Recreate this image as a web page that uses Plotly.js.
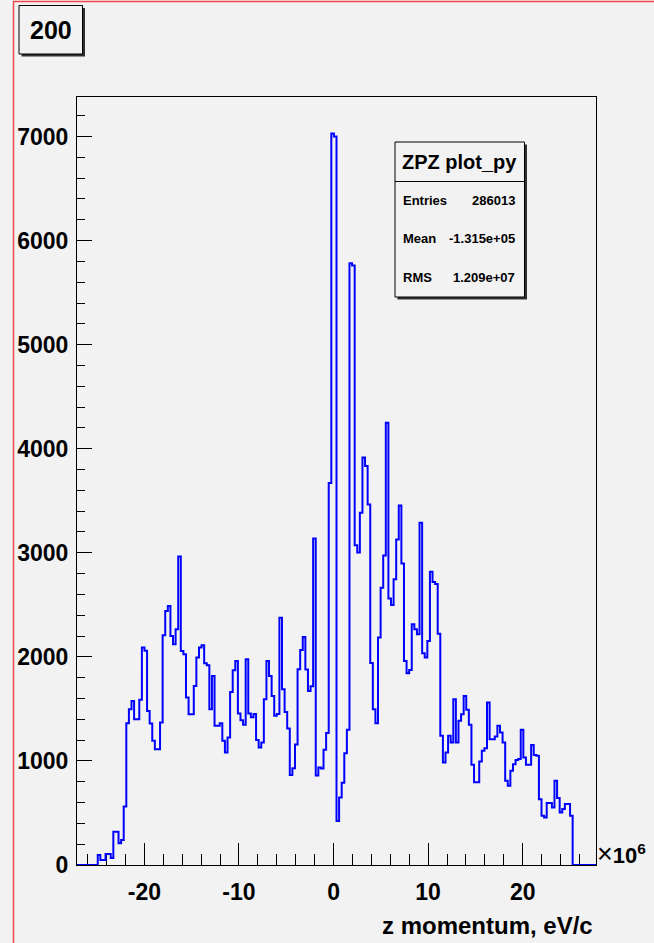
<!DOCTYPE html>
<html>
<head>
<meta charset="utf-8">
<script src="https://cdn.plot.ly/plotly-3.0.1.min.js"></script>
<style>
  html, body { margin: 0; padding: 0; background: #f2f2f2; }
  #chart { width: 654px; height: 943px; }
</style>
</head>
<body>
<div id="chart"></div>
<script>
// ---------------- data ----------------
const histTitle = "200";
const statsTitle = "ZPZ plot_py";
const statsLabels = ["Entries", "Mean", "RMS"];
const statsValues = ["286013", "-1.315e+05", "1.209e+07"];
const xTitle = "z momentum, eV/c";
const xExponent = "<span style=\"font-weight:normal;font-size:27px\">\u00d7</span>10<sup>6</sup>";
const xMin = -27.12;   // in units of 10^6 eV/c
const xMax = 27.75;
const xTickVals = [-20, -10, 0, 10, 20];
const yTickVals = [0, 1000, 2000, 3000, 4000, 5000, 6000, 7000];
const counts = [
  0, 0, 0, 0, 0, 0, 0, 0,
  95, 48, 48, 105, 105, 67,
  320, 320, 208, 240, 563, 1363,
  1497, 1577, 1401, 1401, 1587,
  2089, 2060, 1481, 1360, 1193, 1113, 1113,
  1369, 2207, 2441, 2488, 2200, 2121, 2265, 2965,
  2057, 2025, 1609, 1449, 1449,
  1721, 1993, 2089, 2111, 1939, 1919, 1497, 1817,
  1337, 1337, 1363, 1193, 1081,
  1225, 1663, 1871, 1961, 1456, 1392, 1347, 1977,
  1456, 1420, 1450, 1200, 1129, 1177, 1593, 1961,
  1817, 1625, 1433, 1450, 2377, 1689, 1471, 1312,
  866, 930, 1157, 1880, 2065, 2191, 1879, 1672, 1718,
  3137,
  860, 938, 928, 1107, 1268, 3670, 7030, 7000,
  422, 648, 791, 1075, 1300, 5782, 5760,
  3073, 3004, 3384, 3917, 3833, 3463, 1942, 1497, 1363, 2185, 2665, 2975, 4249,
  2562, 2498, 2745, 3129, 3455, 2898, 1961, 1843, 1875, 2313, 2265, 2217, 3289, 2035, 1993, 2153,
  2819, 2719, 2700, 2223, 1241, 986, 1082, 1241, 1177,
  1593, 1177, 1385, 1449, 1625, 1491, 1347, 963, 794, 794, 995, 1097, 1123,
  1561, 1209, 1209, 1235, 1337, 1273, 1177, 809, 761, 905, 969, 1008, 1018,
  1299, 1034, 963, 963, 1152, 1056, 1050, 633, 473, 457, 595, 595, 553, 809, 643, 505, 537, 585, 585, 473,
  0, 0, 0, 0, 0, 0, 0, 0, 0
];

// ---------------- layout geometry ----------------
const W = 654, H = 943;
const M = { l: 77, r: 58, t: 97, b: 78 };
const PW = W - M.l - M.r, PH = H - M.t - M.b;
const px = v => (v - M.l) / PW;           // pixel x -> paper x
const py = v => (H - M.b - v) / PH;       // pixel y -> paper y

// step outline built from bin edges
const nb = counts.length;
const bw = (xMax - xMin) / nb;
const xs = [], ys = [];
for (let i = 0; i < nb; i++) { xs.push(xMin + i * bw); ys.push(counts[i]); }
xs.push(xMax); ys.push(counts[nb - 1]);

const FONT = "Liberation Sans, Arial, Helvetica, sans-serif";

const trace = {
  type: "scatter", mode: "lines",
  x: xs, y: ys,
  line: { shape: "hv", color: "#0000ff", width: 2 },
  hoverinfo: "skip", showlegend: false
};

function rect(x0, y0, x1, y1, fill, lineColor, lw) {
  return { type: "rect", xref: "paper", yref: "paper",
    x0: px(x0), x1: px(x1), y0: py(y1), y1: py(y0),
    fillcolor: fill, line: { color: lineColor, width: lw }, layer: "above" };
}

const shapes = [
  // red pad highlight
  { type: "rect", xref: "paper", yref: "paper", x0: px(13.5), x1: px(720), y0: py(1000), y1: py(1.5),
    fillcolor: "rgba(0,0,0,0)", line: { color: "#f04848", width: 1.5 }, layer: "above" },
  // title box shadow + box
  rect(21.5, 8, 85, 56.5, "#303030", "#303030", 0),
  rect(19, 5.5, 82.5, 54, "#f2f2f2", "#000000", 1),
  // stats box shadow + box
  rect(397.5, 144.5, 527, 299.5, "#303030", "#303030", 0),
  rect(395, 142, 524.5, 297, "#f2f2f2", "#000000", 1),
  { type: "line", xref: "paper", yref: "paper", x0: px(395), x1: px(524.5), y0: py(181.5), y1: py(181.5),
    line: { color: "#000000", width: 1 }, layer: "above" }
];

const annotations = [
  { text: histTitle, xref: "paper", yref: "paper", x: px(50.5), y: py(30), xanchor: "center", yanchor: "middle",
    showarrow: false, font: { family: FONT, size: 25, color: "#000", weight: "bold" } },
  { text: statsTitle, xref: "paper", yref: "paper", x: px(459.5), y: py(162), xanchor: "center", yanchor: "middle",
    showarrow: false, font: { family: FONT, size: 20, color: "#000", weight: "bold" } },
  { text: xTitle, xref: "paper", yref: "paper", x: px(595), y: py(925), xanchor: "right", yanchor: "middle",
    showarrow: false, font: { family: FONT, size: 24, color: "#000", weight: "bold" } },
  { text: xExponent, xref: "paper", yref: "paper", x: px(595), y: py(871), xanchor: "left", yanchor: "bottom",
    showarrow: false, font: { family: FONT, size: 22, color: "#000", weight: "bold" } }
];
const rowY = [200, 238.5, 277];
statsLabels.forEach((lab, i) => {
  annotations.push({ text: lab, xref: "paper", yref: "paper", x: px(401), y: py(rowY[i]), xanchor: "left", yanchor: "middle",
    showarrow: false, font: { family: FONT, size: 13, color: "#000", weight: "bold" } });
  annotations.push({ text: statsValues[i], xref: "paper", yref: "paper", x: px(517), y: py(rowY[i]), xanchor: "right", yanchor: "middle",
    showarrow: false, font: { family: FONT, size: 13, color: "#000", weight: "bold" } });
});

const layout = {
  width: W, height: H,
  margin: M,
  paper_bgcolor: "#f2f2f2", plot_bgcolor: "#f2f2f2",
  showlegend: false,
  xaxis: {
    range: [xMin, xMax], showgrid: false, zeroline: false,
    showline: true, mirror: true, linecolor: "#000", linewidth: 1,
    ticks: "inside", ticklen: 22, tickwidth: 1, tickcolor: "#000",
    tickvals: xTickVals, ticktext: xTickVals.map(String),
    minor: { dtick: 2, ticks: "inside", ticklen: 11, tickwidth: 1, tickcolor: "#000", showgrid: false },
    tickfont: { family: FONT, size: 23, color: "#000", weight: "bold" },
    ticklabelstandoff: 6,
    layer: "below traces", fixedrange: true
  },
  yaxis: {
    range: [0, 7380], showgrid: false, zeroline: false,
    showline: true, mirror: true, linecolor: "#000", linewidth: 1,
    ticks: "inside", ticklen: 15, tickwidth: 1, tickcolor: "#000",
    tickvals: yTickVals, ticktext: yTickVals.map(String),
    minor: { dtick: 200, ticks: "inside", ticklen: 8, tickwidth: 1, tickcolor: "#000", showgrid: false },
    tickfont: { family: FONT, size: 23, color: "#000", weight: "bold" },
    ticklabelstandoff: 3,
    layer: "below traces", fixedrange: true
  },
  shapes: shapes,
  annotations: annotations
};

Plotly.newPlot("chart", [trace], layout, { staticPlot: true, displayModeBar: false });
</script>
</body>
</html>
